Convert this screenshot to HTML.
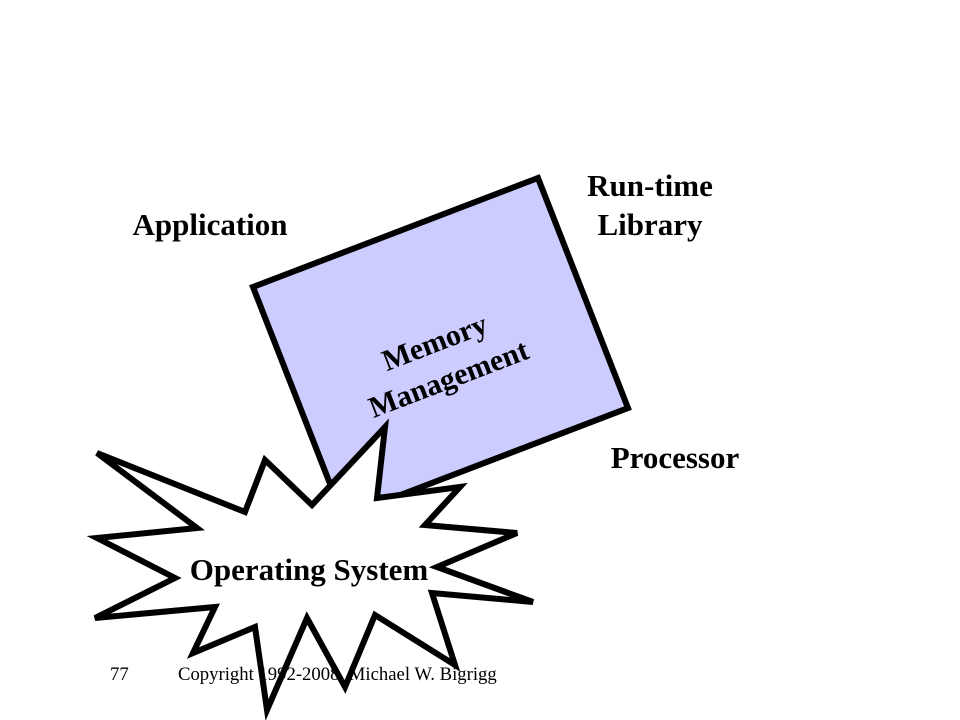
<!DOCTYPE html>
<html><head><style>
body{margin:0;width:960px;height:720px;background:#fff;overflow:hidden;position:relative;font-family:"Liberation Serif",serif}
.t{position:absolute;font-weight:bold;font-size:31px;color:#000;text-align:center;line-height:39px}
</style></head><body>
<svg width="960" height="720" style="position:absolute;left:0;top:0">
<polygon points="253,287 538,178 628,408 343,517" fill="#ccccff" stroke="#000" stroke-width="6" stroke-linejoin="miter"/>
<g transform="translate(441,359) rotate(-21)">
<text x="0" y="-8" text-anchor="middle" font-family="Liberation Serif" font-weight="bold" font-size="30">Memory</text>
<text x="0" y="31" text-anchor="middle" font-family="Liberation Serif" font-weight="bold" font-size="30">Management</text>
</g>
<polygon points="97,453 245,512 265,460 312,505 385,427 377,498 460,487 425,525 517,533 437,567 533,602 432,593 455,665 375,615 345,687 307,618 267,710 255,627 193,653 215,607 95,618 175,578 97,538 197,528" fill="#fff" stroke="#000" stroke-width="6" stroke-linejoin="miter"/>
<text x="309" y="580" text-anchor="middle" font-family="Liberation Serif" font-weight="bold" font-size="31">Operating System</text>
<text x="110" y="680" font-family="Liberation Serif" font-size="18.7">77</text>
<text x="178" y="680" font-family="Liberation Serif" font-size="18.7">Copyright 1992-2008, Michael W. Bigrigg</text>
</svg>
<div class="t" style="left:110px;top:205px;width:200px">Application</div>
<div class="t" style="left:560px;top:166px;width:180px">Run-time<br>Library</div>
<div class="t" style="left:590px;top:438px;width:170px">Processor</div>
</body></html>
